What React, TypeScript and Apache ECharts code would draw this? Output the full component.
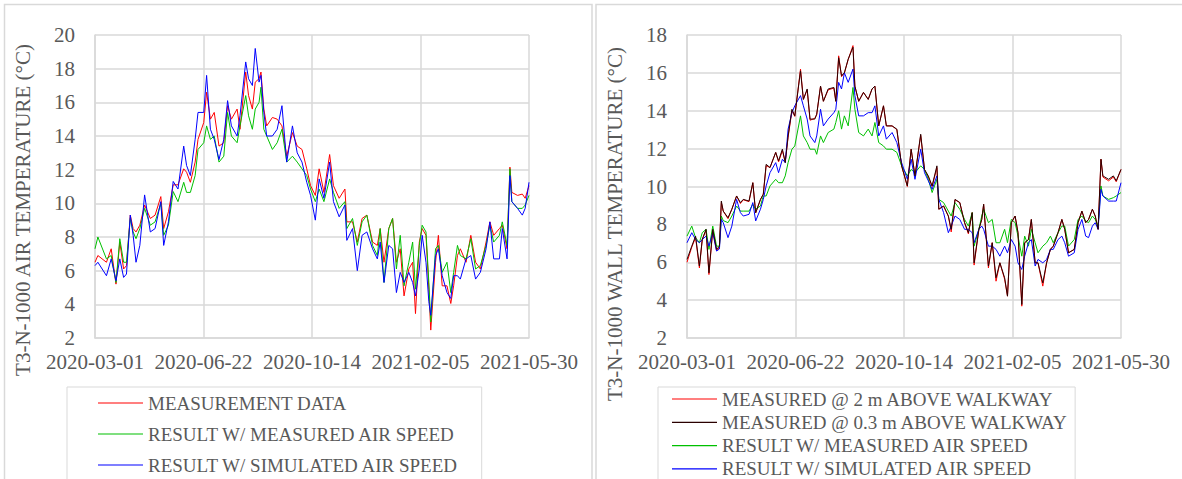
import React, { useEffect, useRef } from "react";
import * as echarts from "echarts";

const X_TICKS = ["2020-03-01", "2020-06-22", "2020-10-14", "2021-02-05", "2021-05-30"];

// Left panel: air temperature (x = days since 2020-03-01)
const LEFT_DAYS = [0,3,12,17,22,26,30,33,37,40,43,47,52,58,63,69,72,77,82,87,93,96,100,105,108,114,117,121,125,130,135,139,143,149,152,158,161,165,168,172,174,177,180,186,191,196,201,207,212,217,222,226,231,235,240,246,250,256,262,264,270,275,280,285,291,296,299,303,308,312,316,320,324,329,333,336,340,343,347,350,352,357,360,364,369,373,376,380,383,389,394,399,404,410,414,418,424,427,432,435,437,443,448,451,455];
const LEFT_MEASURED = [6.5,6.9,6.5,7.3,5.2,7.7,6.1,6.3,9.3,8.5,8.3,8.7,9.9,9.1,9.3,10.4,8.5,9.5,11.1,11.1,12.05,11.85,11.25,12.45,13.8,14.8,16.6,15.0,15.4,13.4,13.6,15.8,15.0,15.6,14.4,17.8,16.4,15.6,17.2,17.4,17.8,15.6,14.6,15.1,15.0,14.6,12.8,14.2,13.4,13.2,12.05,11.05,10.47,12.05,10.65,12.9,11.05,10.3,10.85,8.9,8.9,7.7,9.1,9.3,7.7,7.5,8.5,6.5,8.5,9.1,6.5,7.3,4.5,6.1,6.5,3.45,7.7,8.5,8.1,4.9,2.47,6.5,8.1,5.1,5.1,4.05,5.1,6.9,7.3,6.5,8.1,6.5,6.1,7.7,8.9,8.1,8.5,8.7,7.3,12.15,10.65,10.47,10.55,10.3,11.05];
const LEFT_RES_MEAS = [7.3,8.0,6.7,6.9,5.3,7.9,6.5,6.5,9.1,8.3,7.9,8.5,9.7,8.7,8.9,10.0,8.1,8.7,10.7,10.1,11.25,10.65,10.65,11.65,13.2,13.6,14.6,13.8,14.0,12.45,12.8,15.4,14.0,13.6,14.6,16.4,15.2,14.4,15.6,16.0,16.9,14.4,14.0,13.2,13.6,14.4,12.45,12.8,12.45,12.05,11.65,10.85,10.1,10.85,10.1,11.45,10.65,9.7,10.1,8.5,9.1,7.5,8.9,9.3,7.5,6.9,8.5,5.3,8.5,9.1,6.1,8.1,5.1,6.5,7.7,4.9,7.5,8.7,8.3,5.3,2.95,7.3,7.5,5.9,6.5,4.7,5.9,7.5,6.9,6.7,7.9,6.1,6.3,7.5,8.7,7.7,8.1,8.9,7.5,12.05,10.1,9.7,9.7,9.9,10.47];
const LEFT_RES_SIM = [6.3,6.5,5.7,6.7,5.4,6.7,5.6,5.8,9.3,8.1,6.5,7.5,10.5,8.3,8.5,10.1,7.5,8.9,11.3,10.85,13.4,12.25,11.65,13.8,15.4,15.4,17.6,14.4,13.8,12.6,13.8,16.1,14.6,14.0,15.2,18.4,17.4,17.0,19.2,17.2,17.6,15.4,14.0,14.0,14.4,15.8,12.45,14.6,13.0,12.45,11.25,10.47,9.0,11.45,10.3,12.45,10.1,9.2,9.9,7.8,8.5,6.0,8.1,8.3,7.3,6.7,7.7,5.3,7.5,7.3,4.7,5.9,5.3,5.9,5.3,4.5,6.1,8.1,6.5,4.15,3.35,6.9,7.3,5.7,4.7,4.35,5.7,5.7,5.5,6.7,6.9,5.5,5.9,7.3,8.9,6.7,6.7,8.5,6.7,11.65,10.1,9.7,9.3,9.7,11.25];

// Right panel: wall temperature
const RIGHT_DAYS = [0,5,9,13,16,20,23,27,31,34,36,38,43,47,52,56,59,65,69,72,77,80,83,87,93,96,100,103,106,110,113,119,122,126,129,134,136,140,143,148,154,156,159,162,165,169,174,176,180,185,190,194,197,201,206,209,215,220,225,231,235,239,245,249,253,257,262,264,269,274,277,281,286,291,295,299,301,306,309,311,316,320,324,328,333,336,340,344,347,351,354,358,361,365,368,373,377,381,384,389,393,396,400,406,410,414,418,421,425,428,431,434,436,442,447,450,455];
const RIGHT_2M = [6.0,6.8,7.3,5.7,7.2,7.7,5.35,7.7,6.6,6.8,9.15,8.7,8.3,8.8,9.5,9.1,9.3,9.2,10.2,8.6,9.3,9.6,11.1,11.0,11.8,11.3,11.9,11.3,12.6,14.0,13.7,16.2,14.6,15.1,13.5,13.6,13.8,15.3,14.5,15.1,15.2,14.5,16.9,15.8,16.0,16.7,17.44,15.3,14.5,14.97,14.6,15.15,15.3,13.2,14.26,13.2,13.2,13.0,11.09,10.0,11.97,10.56,12.7,10.9,10.5,10.0,11.0,8.8,8.97,8.44,7.6,9.3,9.15,8.09,7.5,8.62,5.85,7.74,8.26,9.06,5.7,7.03,5.0,5.97,5.1,4.21,8.09,8.44,7.56,3.68,7.03,7.2,8.26,5.97,5.97,4.74,5.97,6.68,6.85,7.56,8.26,7.74,6.5,6.68,8.09,8.7,8.09,8.26,8.8,8.44,7.74,11.44,10.5,10.3,10.5,10.25,10.9];
const RIGHT_03M = [6.15,6.85,7.38,5.8,7.2,7.74,5.44,7.74,6.68,6.85,9.23,8.7,8.35,8.8,9.5,9.15,9.32,9.23,10.2,8.62,9.32,9.59,11.17,11.0,11.8,11.35,11.97,11.26,12.67,14.08,13.73,16.11,14.6,15.15,13.56,13.56,13.82,15.3,14.5,15.15,15.23,14.5,16.8,15.85,16.0,16.73,17.35,15.3,14.5,14.97,14.6,15.15,15.3,13.2,14.26,13.2,13.2,13.03,11.09,10.03,11.97,10.56,12.76,10.9,10.56,10.03,11.09,8.8,8.97,8.44,7.74,9.32,9.15,8.09,7.56,8.62,5.97,7.74,8.26,9.06,5.8,7.03,5.18,5.97,5.18,4.21,8.09,8.44,7.56,3.77,7.03,7.2,8.26,5.97,5.97,4.91,5.97,6.68,6.85,7.56,8.26,7.74,6.5,6.68,8.09,8.7,8.09,8.26,8.8,8.44,7.74,11.44,10.56,10.38,10.56,10.3,10.9];
const RIGHT_RES_MEAS = [7.38,7.91,7.3,7.03,7.56,7.74,6.68,7.91,6.85,6.85,8.44,8.2,8.09,8.44,8.97,8.7,8.7,8.7,9.06,8.8,8.97,9.5,9.5,10.03,10.38,10.2,10.2,10.56,11.26,11.97,12.14,13.73,12.67,12.32,11.97,11.97,11.7,12.67,12.32,12.85,13.03,13.38,14.0,13.03,13.73,13.2,15.23,14.08,12.85,12.67,13.03,12.67,13.38,12.32,12.14,11.97,11.97,11.8,11.09,10.56,10.9,10.73,11.09,10.9,10.38,9.68,10.38,9.32,9.15,8.7,8.44,9.15,8.8,8.26,7.91,8.62,6.85,7.74,8.44,8.8,8.09,8.26,7.03,7.03,7.74,7.03,8.26,8.09,7.38,6.32,7.38,6.85,7.74,7.03,6.5,6.85,7.03,7.38,7.03,7.56,7.91,7.91,6.85,7.2,8.26,8.44,8.18,8.09,8.44,8.26,7.91,10.03,9.5,9.32,9.41,9.5,9.68];
const RIGHT_RES_SIM = [7.03,7.56,7.2,7.03,7.2,7.38,6.85,7.56,6.59,6.7,8.26,8.09,7.3,7.91,9.32,8.62,8.44,8.53,9.15,8.18,8.8,9.32,10.03,10.73,11.26,10.73,11.44,11.26,13.03,13.9,14.26,14.8,14.26,13.56,12.67,12.32,12.67,14.08,13.2,13.56,13.9,14.08,15.5,15.15,16.0,15.5,16.2,14.8,13.73,13.73,13.9,13.9,14.26,12.67,13.2,12.5,12.85,12.32,11.26,10.38,11.44,10.38,11.97,10.73,10.3,9.85,10.56,9.32,8.62,7.56,7.91,8.44,8.26,7.74,7.74,7.56,7.03,7.74,7.91,7.74,6.85,6.85,6.68,6.32,6.85,6.5,7.2,6.85,5.97,5.62,6.32,7.03,7.2,5.8,6.15,5.97,6.15,6.68,6.68,7.2,7.38,7.03,6.32,6.5,7.74,8.26,7.38,7.3,7.91,8.09,7.74,9.85,9.5,9.23,9.23,9.23,10.2];

const LEFT_NAMES = ["MEASUREMENT DATA", "RESULT W/ MEASURED AIR SPEED", "RESULT W/ SIMULATED AIR SPEED"];
const RIGHT_NAMES = ["MEASURED @ 2 m ABOVE WALKWAY", "MEASURED @ 0.3 m ABOVE WALKWAY", "RESULT W/ MEASURED AIR SPEED", "RESULT W/ SIMULATED AIR SPEED"];

const FONT = "'Liberation Serif', 'Times New Roman', serif";
const TXT = "#595959";
const GRID = "#d9d9d9";
const TICK_STEP = 113.75;

function pairs(days: number[], vals: number[]) {
  return days.map((d, i) => [d, vals[i]]);
}

function xAxis(gridIndex: number) {
  return {
    type: "value",
    gridIndex,
    min: 0,
    max: 455,
    interval: TICK_STEP,
    axisLine: { show: true, lineStyle: { color: GRID, width: 1.5 } },
    axisTick: { show: false },
    splitLine: { show: true, lineStyle: { color: GRID, width: 1.5 } },
    axisLabel: {
      color: TXT,
      fontFamily: FONT,
      fontSize: 21,
      margin: 13,
      formatter: (v: number) => X_TICKS[Math.round(v / TICK_STEP)] ?? "",
    },
  };
}

function yAxis(gridIndex: number, max: number) {
  return {
    type: "value",
    gridIndex,
    min: 2,
    max,
    interval: 2,
    axisLine: { show: true, lineStyle: { color: GRID, width: 1.5 } },
    axisTick: { show: false },
    splitLine: { show: true, lineStyle: { color: GRID, width: 1.5 } },
    axisLabel: { color: TXT, fontFamily: FONT, fontSize: 21, margin: 20 },
  };
}

function line(name: string, color: string, xi: number, data: number[][], z = 2) {
  return {
    type: "line",
    name,
    xAxisIndex: xi,
    yAxisIndex: xi,
    data,
    symbol: "none",
    z,
    lineStyle: { color, width: 1 },
    itemStyle: { color },
  };
}

function legend(names: string[], left: number, gap: number, padding: number[]) {
  return {
    data: names,
    orient: "vertical",
    left,
    top: 387,
    height: 200,
    icon: "rect",
    itemWidth: 45,
    itemHeight: 1.2,
    itemGap: gap,
    padding,
    borderColor: GRID,
    borderWidth: 1,
    selectedMode: false,
    textStyle: { color: TXT, fontFamily: FONT, fontSize: 19, lineHeight: 22 },
  };
}

export default function App() {
  const ref = useRef<HTMLDivElement>(null);
  useEffect(() => {
    if (!ref.current) return;
    const chart = echarts.init(ref.current, null, { renderer: "svg" });
    const RED = "#ff0000";
    const GREEN = "#00c000";
    const BLUE = "#0000ff";
    const DARK = "#2a0000";
    chart.setOption({
      animation: false,
      backgroundColor: "#ffffff",
      grid: [
        { left: 95, top: 35, width: 434, height: 303 },
        { left: 687, top: 35, width: 434, height: 303 },
      ],
      xAxis: [xAxis(0), xAxis(1)],
      yAxis: [yAxis(0, 20), yAxis(1, 18)],
      legend: [
        legend(LEFT_NAMES, 67, 9, [5, 23, 40, 31]),
        legend(RIGHT_NAMES, 658, 1.3, [1, 7, 40, 14]),
      ],
      graphic: [
        { type: "rect", shape: { x: 4.5, y: 4.5, width: 587.5, height: 520 }, style: { fill: "none", stroke: GRID, lineWidth: 1.5 }, silent: true },
        { type: "rect", shape: { x: 596, y: 4.5, width: 600, height: 520 }, style: { fill: "none", stroke: GRID, lineWidth: 1.5 }, silent: true },
        {
          type: "text",
          x: 23,
          y: 210,
          rotation: Math.PI / 2,
          style: { text: "T3-N-1000 AIR TEMPERATURE (°C)", fill: TXT, font: `21px ${FONT}`, textAlign: "center", textVerticalAlign: "middle" },
        },
        {
          type: "text",
          x: 615,
          y: 224,
          rotation: Math.PI / 2,
          style: { text: "T3-N-1000 WALL TEMPERATURE (°C)", fill: TXT, font: `21px ${FONT}`, textAlign: "center", textVerticalAlign: "middle" },
        },
      ],
      series: [
        line(LEFT_NAMES[0], RED, 0, pairs(LEFT_DAYS, LEFT_MEASURED), 2),
        line(LEFT_NAMES[1], GREEN, 0, pairs(LEFT_DAYS, LEFT_RES_MEAS), 3),
        line(LEFT_NAMES[2], BLUE, 0, pairs(LEFT_DAYS, LEFT_RES_SIM), 4),
        line(RIGHT_NAMES[0], RED, 1, pairs(RIGHT_DAYS, RIGHT_2M), 2),
        line(RIGHT_NAMES[1], DARK, 1, pairs(RIGHT_DAYS, RIGHT_03M), 5),
        line(RIGHT_NAMES[2], GREEN, 1, pairs(RIGHT_DAYS, RIGHT_RES_MEAS), 3),
        line(RIGHT_NAMES[3], BLUE, 1, pairs(RIGHT_DAYS, RIGHT_RES_SIM), 4),
      ],
    });
    return () => chart.dispose();
  }, []);
  return (
    <div
      ref={ref}
      style={{ position: "fixed", left: 0, top: 0, width: 1182, height: 479, background: "#fff" }}
    />
  );
}
